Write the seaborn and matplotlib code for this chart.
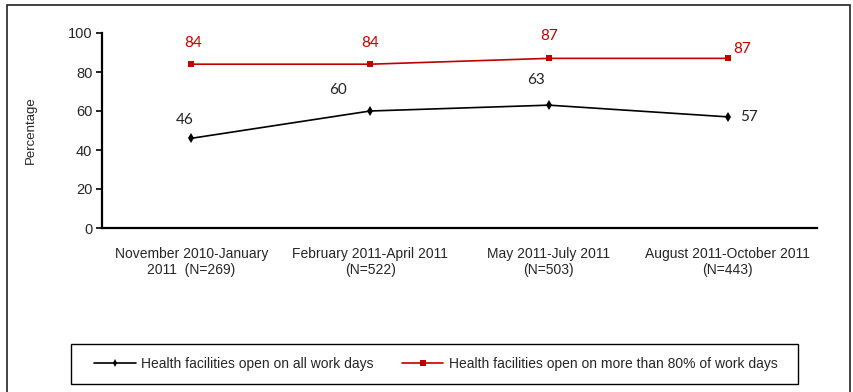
import matplotlib
matplotlib.use("Agg")
import matplotlib.pyplot as plt
import seaborn as sns
import pandas as pd
from matplotlib.patches import Rectangle
from matplotlib.lines import Line2D

categories = ["November 2010-January\n2011  (N=269)", "February 2011-April 2011\n(N=522)",
              "May 2011-July 2011\n(N=503)", "August 2011-October 2011\n(N=443)"]
all_days = [46, 60, 63, 57]
over80 = [84, 84, 87, 87]
series_names = ["Health facilities open on all work days",
                "Health facilities open on more than 80% of work days"]

sns.set_theme(style="white")
plt.rcParams['font.family'] = ['Liberation Sans', 'DejaVu Sans']

df = pd.DataFrame({
    "pos": list(range(4)) * 2,
    "value": all_days + over80,
    "series": [series_names[0]] * 4 + [series_names[1]] * 4,
})

fig = plt.figure(figsize=(8.54, 3.92), dpi=100)
ax = fig.add_axes([102/854, 1-228/392, (817-102)/854, (228-33)/392])

black = "#000000"
red = "#C00000"
sns.lineplot(data=df, x="pos", y="value", hue="series", style="series",
             palette=[black, red], markers=["d", "s"], dashes=False,
             markersize=5, linewidth=1.2, markeredgewidth=0, ax=ax, legend=False)

ax.set_xlim(-0.5, 3.5)
ax.set_ylim(0, 100)
ax.set_yticks([0, 20, 40, 60, 80, 100])
ax.set_xticks([-0.5, 0.5, 1.5, 2.5, 3.5])
ax.set_xticklabels([])
ax.set_xticks(range(4), minor=True)
ax.set_xticklabels(categories, minor=True, fontsize=10)
ax.tick_params(axis="x", which="minor", length=0, pad=14)
ax.tick_params(axis="x", which="major", length=3, direction="in", width=1.2, color=black)
ax.tick_params(axis="y", length=4, direction="out", width=1.2, labelsize=10.5, pad=3, color=black, left=True)
for lbl in ax.get_xticklabels(minor=True):
    lbl.set_linespacing(1.15)
for s in ["top", "right"]:
    ax.spines[s].set_visible(False)
for s in ["left", "bottom"]:
    ax.spines[s].set_color(black)
    ax.spines[s].set_linewidth(1.6)
ax.set_xlabel("")
ax.set_ylabel("Percentage", fontsize=9.5, labelpad=22)

lab_font = ['Lato', 'DejaVu Sans']
black_off = [(-7, 18), (-32, 21), (-13, 25), (21, 0)]
red_off = [(2, 21), (0, 21), (0, 22), (15, 9)]
for i, (v, off) in enumerate(zip(all_days, black_off)):
    ax.annotate(str(v), (i, v), xytext=off, textcoords="offset pixels",
                ha="center", va="center", fontsize=11, color="#222222", family=lab_font)
for i, (v, off) in enumerate(zip(over80, red_off)):
    ax.annotate(str(v), (i, v), xytext=off, textcoords="offset pixels",
                ha="center", va="center", fontsize=11, color=red, family=lab_font)

# outer frame
fig.add_artist(Rectangle((7/854, -0.05), (850-7)/854, 1.05 - 5/392, transform=fig.transFigure,
                         fill=False, edgecolor="#222222", linewidth=1.2))
# legend box
fig.add_artist(Rectangle((71/854, 1-384/392), (798-71)/854, 40/392, transform=fig.transFigure,
                         fill=False, edgecolor=black, linewidth=1.0))
handles = [Line2D([], [], color=black, marker="d", markersize=4, markeredgewidth=0, linewidth=1.2),
           Line2D([], [], color=red, marker="s", markersize=4, markeredgewidth=0, linewidth=1.2)]
fig.legend(handles, series_names, loc="center", bbox_to_anchor=(436/854, 1-364/392),
           ncol=2, frameon=False, fontsize=10, handlelength=3.0, columnspacing=2.0,
           handletextpad=0.4)

fig.savefig("out.png", dpi=100)
